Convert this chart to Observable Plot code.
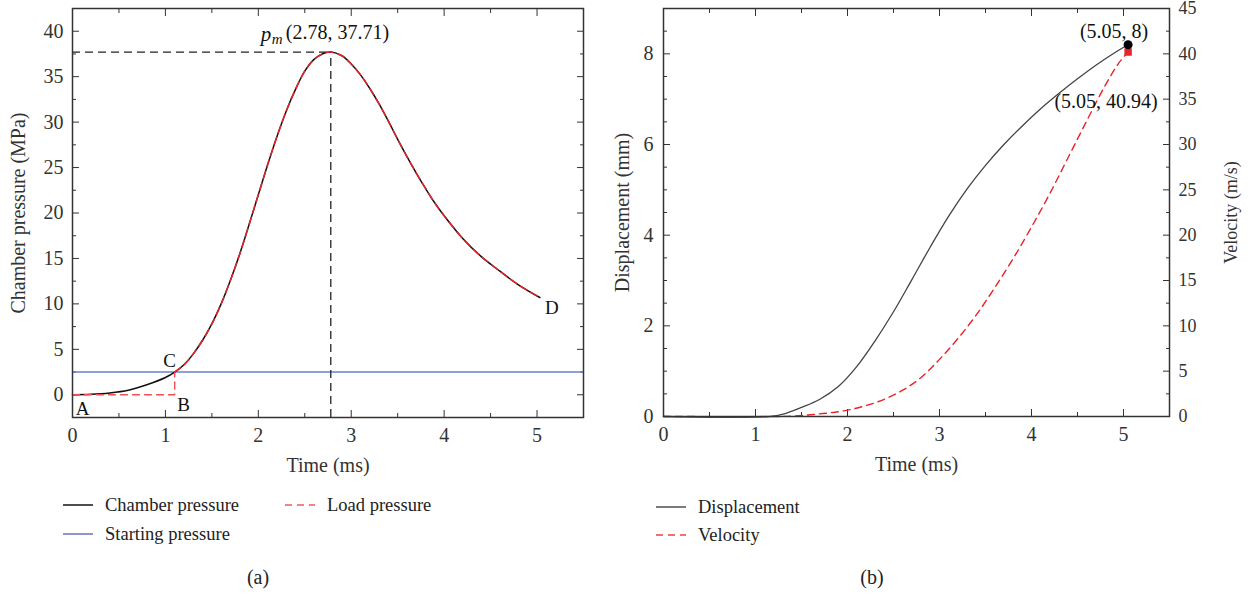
<!DOCTYPE html>
<html><head><meta charset="utf-8">
<script src="https://cdn.jsdelivr.net/npm/d3@7"></script>
<script src="https://cdn.jsdelivr.net/npm/@observablehq/plot@0.6"></script>
<style>
body{margin:0;background:#fff;}
#root{position:relative;width:1252px;height:594px;font-family:"Liberation Serif",serif;color:#222;overflow:hidden;}
.panel{position:absolute;top:0;}
.leg{position:absolute;display:flex;align-items:center;font-size:18.5px;white-space:nowrap;line-height:1;}
.leg svg{margin-right:12px;}
.cap{position:absolute;font-size:20px;transform:translate(-50%,-50%);}
</style></head><body><div id="root"></div>
<script>
// ---------- Panel (a) data ----------
const chamberTime = [0,0.2,0.4,0.6,0.8,1.0,1.1,1.2,1.3,1.4,1.5,1.6,1.7,1.8,1.9,2.0,2.1,2.2,2.3,2.4,2.5,2.6,2.7,2.78,2.9,3.0,3.1,3.2,3.3,3.4,3.5,3.6,3.7,3.8,3.9,4.0,4.2,4.4,4.6,4.8,5.03];
const chamberPressure = [0,0.05,0.2,0.5,1.1,1.9,2.5,3.3,4.5,6.0,7.8,10.0,12.6,15.5,18.7,22.0,25.3,28.4,31.2,33.6,35.6,36.9,37.55,37.71,37.3,36.4,35.2,33.7,32.0,30.1,28.1,26.2,24.4,22.7,21.1,19.7,17.2,15.2,13.6,12.1,10.7];
const loadLeadTime = [0, 1.1, 1.1];
const loadLeadPressure = [0, 0, 2.5];
const startingPressure = 2.5;
const peakPoint = {t: 2.78, p: 37.71};
const pointLabels = [
  {name: "A", t: 0, p: 0},
  {name: "B", t: 1.1, p: 0},
  {name: "C", t: 1.1, p: 2.5},
  {name: "D", t: 5.03, p: 10.7}
];
const xTicks = [0,1,2,3,4,5];
const xMinor = [0.5,1.5,2.5,3.5,4.5,5.5];
const pTicks = [0,5,10,15,20,25,30,35,40];
const pMinor = [-2.5,2.5,7.5,12.5,17.5,22.5,27.5,32.5,37.5,42.5];

// ---------- Panel (b) data ----------
const dispTime = [0,1.16,1.3,1.5,1.7,1.9,2.1,2.3,2.5,2.7,2.9,3.1,3.3,3.5,3.7,3.9,4.1,4.3,4.5,4.7,4.9,5.05];
const displacement = [0,0,0.05,0.2,0.38,0.66,1.1,1.67,2.31,3.02,3.74,4.42,5.02,5.54,6.0,6.41,6.79,7.13,7.45,7.75,8.02,8.2];
const velTime = [0,1.2,1.4,1.6,1.8,2.0,2.2,2.4,2.6,2.8,3.0,3.2,3.4,3.6,3.8,4.0,4.2,4.4,4.6,4.8,4.95,5.05];
const velocity = [0,0,0.05,0.2,0.4,0.7,1.2,1.9,2.9,4.3,6.3,8.6,11.2,14.2,17.4,20.9,24.6,28.6,32.6,36.5,39.0,40.2];
const dispEnd = {t: 5.05, d: 8.2, label: "(5.05, 8)"};
const velEnd = {t: 5.05, v: 40.2, label: "(5.05, 40.94)"};
const dTicks = [0,2,4,6,8];
const dMinor = [0.5,1,1.5,2.5,3,3.5,4.5,5,5.5,6.5,7,7.5,8.5,9];
const vTicks = [0,5,10,15,20,25,30,35,40,45];
const vMinor = [2.5,7.5,12.5,17.5,22.5,27.5,32.5,37.5,42.5];
const velRatio = 5; // velocity axis (0–45) shares the displacement frame (0–9)

const RED = "#e8222a", BLUE = "#6b80c6", AX = "#333";

const chamber = chamberTime.map((t, i) => ({t, p: chamberPressure[i]}));
const loadLead = loadLeadTime.map((t, i) => ({t, p: loadLeadPressure[i]}));
const loadRest = chamber.filter(d => d.t >= 1.1);
const disp = dispTime.map((t, i) => ({t, d: displacement[i]}));
const vel = velTime.map((t, i) => ({t, v: velocity[i]}));

const fontStyle = {fontFamily: "Liberation Serif, serif", fontSize: "20px", color: AX, background: "transparent", overflow: "visible"};
const noText = () => "";

function frameTicks(xT, xM, yT, yM, rightMirror) {
  const m = [
    Plot.axisX({ticks: xM, tickSize: -4, tickFormat: noText, label: null}),
    Plot.axisX({anchor: "top", ticks: xT, tickSize: -7, tickFormat: noText, label: null}),
    Plot.axisX({anchor: "top", ticks: xM, tickSize: -4, tickFormat: noText, label: null}),
    Plot.axisY({ticks: yM, tickSize: -4, tickFormat: noText, label: null})
  ];
  if (rightMirror) {
    m.push(Plot.axisY({anchor: "right", ticks: yT, tickSize: -7, tickFormat: noText, label: null}));
    m.push(Plot.axisY({anchor: "right", ticks: yM, tickSize: -4, tickFormat: noText, label: null}));
  }
  return m;
}

const left = Plot.plot({
  width: 600, height: 480, marginLeft: 72, marginRight: 17, marginTop: 8, marginBottom: 63,
  style: fontStyle,
  x: {domain: [0, 5.5]},
  y: {domain: [-2.5, 42.5]},
  marks: [
    Plot.axisX({ticks: xTicks, tickSize: -7, tickPadding: 17, tickFormat: d => d, label: "Time (ms)", labelAnchor: "center", labelOffset: 54, labelArrow: "none"}),
    Plot.axisY({ticks: pTicks, tickSize: -7, tickPadding: 16, tickFormat: d => d, label: "Chamber pressure (MPa)", labelAnchor: "center", labelOffset: 62, labelArrow: "none"}),
    ...frameTicks(xTicks, xMinor, pTicks, pMinor, true),
    Plot.ruleY([startingPressure], {stroke: BLUE, strokeWidth: 1.4}),
    Plot.ruleY([peakPoint], {y: "p", x1: 0, x2: "t", stroke: "#222", strokeWidth: 1.3, strokeDasharray: "8,5"}),
    Plot.ruleX([peakPoint], {x: "t", y1: -2.5, y2: "p", stroke: "#222", strokeWidth: 1.3, strokeDasharray: "8,5"}),
    Plot.line(chamber, {x: "t", y: "p", stroke: "#111", strokeWidth: 1.5, curve: "catmull-rom"}),
    Plot.line(loadLead, {x: "t", y: "p", stroke: "#ef4f55", strokeWidth: 1.4, strokeDasharray: "7,5"}),
    Plot.line(loadRest, {x: "t", y: "p", stroke: RED, strokeWidth: 1.5, strokeDasharray: "7,5", curve: "catmull-rom"}),
    Plot.text(pointLabels.filter(d => d.name === "A"), {x: "t", y: "p", text: "name", dx: 10, dy: 14, fontSize: 19, fill: "#111"}),
    Plot.text(pointLabels.filter(d => d.name === "B"), {x: "t", y: "p", text: "name", dx: 9, dy: 10, fontSize: 19, fill: "#111"}),
    Plot.text(pointLabels.filter(d => d.name === "C"), {x: "t", y: "p", text: "name", dx: -5, dy: -11, fontSize: 19, fill: "#111"}),
    Plot.text(pointLabels.filter(d => d.name === "D"), {x: "t", y: "p", text: "name", dx: 12, dy: 10, fontSize: 19, fill: "#111"}),
    Plot.text([peakPoint], {x: "t", y: "p", text: () => "p", dx: -70, dy: -18, textAnchor: "start", fontStyle: "italic", fontSize: 21, fill: "#111"}),
    Plot.text([peakPoint], {x: "t", y: "p", text: () => "m", dx: -59, dy: -13, textAnchor: "start", fontStyle: "italic", fontSize: 15, fill: "#111"}),
    Plot.text([peakPoint], {x: "t", y: "p", text: d => `(${d.t}, ${d.p})`, dx: -45, dy: -19, textAnchor: "start", fontSize: 20, fill: "#111"}),
    Plot.frame({stroke: AX, strokeWidth: 1.5})
  ]
});

const right = Plot.plot({
  width: 652, height: 480, marginLeft: 63, marginRight: 83, marginTop: 8, marginBottom: 64,
  style: fontStyle,
  x: {domain: [0, 5.5]},
  y: {domain: [0, 9]},
  marks: [
    Plot.axisX({ticks: xTicks, tickSize: -7, tickPadding: 17, tickFormat: d => d, label: "Time (ms)", labelAnchor: "center", labelOffset: 54, labelArrow: "none"}),
    Plot.axisY({ticks: dTicks, tickSize: -7, tickPadding: 17, tickFormat: d => d, label: "Displacement (mm)", labelAnchor: "center", labelOffset: 49, labelArrow: "none"}),
    Plot.axisY({anchor: "right", ticks: vTicks.map(v => v / velRatio), tickSize: -7, tickPadding: 16, tickFormat: d => Math.round(d * velRatio), fontSize: 18, label: "Velocity (m/s)", labelAnchor: "center", labelOffset: 67, labelArrow: "none"}),
    Plot.axisY({anchor: "right", ticks: vMinor.map(v => v / velRatio), tickSize: -4, tickFormat: noText, label: null}),
    ...frameTicks(xTicks, xMinor, dTicks, dMinor, false),
    Plot.line(disp, {x: "t", y: "d", stroke: "#444", strokeWidth: 1.3, curve: "catmull-rom"}),
    Plot.line(vel, {x: "t", y: d => d.v / velRatio, stroke: RED, strokeWidth: 1.4, strokeDasharray: "7,5", curve: "catmull-rom"}),
    Plot.dot([velEnd], {x: "t", y: d => d.v / velRatio, symbol: "square", r: 4.2, fill: RED, stroke: "none"}),
    Plot.dot([dispEnd], {x: "t", y: "d", r: 4.5, fill: "#000", stroke: "none"}),
    Plot.text([dispEnd], {x: "t", y: "d", text: "label", dx: -14, dy: -13, fontSize: 20, fill: "#111"}),
    Plot.text([velEnd], {x: "t", y: d => d.v / velRatio, text: "label", dx: -22, dy: 50, fontSize: 20, fill: "#111"}),
    Plot.frame({stroke: AX, strokeWidth: 1.5})
  ]
});

const root = document.getElementById("root");
left.classList.add("panel"); left.style.left = "0px";
right.classList.add("panel"); right.style.left = "600px";
root.appendChild(left); root.appendChild(right);

function swatch(color, dashed, width) {
  return `<svg width="30" height="6"><line x1="0" x2="30" y1="3" y2="3" stroke="${color}" stroke-width="${width}" ${dashed ? 'stroke-dasharray="7,5"' : ""}/></svg>`;
}
const legendItems = [
  {text: "Chamber pressure", color: "#222", dashed: false, w: 1.6, x: 63, y: 505},
  {text: "Load pressure", color: "#f05a5a", dashed: true, w: 1.6, x: 285, y: 505},
  {text: "Starting pressure", color: "#4f5fb5", dashed: false, w: 1.3, x: 63, y: 534},
  {text: "Displacement", color: "#333", dashed: false, w: 1.3, x: 656, y: 507},
  {text: "Velocity", color: "#f04040", dashed: true, w: 1.6, x: 656, y: 535}
];
for (const it of legendItems) {
  const el = document.createElement("div");
  el.className = "leg";
  el.style.left = it.x + "px";
  el.style.top = (it.y - 10) + "px";
  el.style.height = "20px";
  el.innerHTML = swatch(it.color, it.dashed, it.w) + `<span>${it.text}</span>`;
  root.appendChild(el);
}
const captions = [{text: "(a)", x: 258, y: 577}, {text: "(b)", x: 872, y: 577}];
for (const c of captions) {
  const el = document.createElement("div");
  el.className = "cap";
  el.style.left = c.x + "px";
  el.style.top = c.y + "px";
  el.textContent = c.text;
  root.appendChild(el);
}
</script></body></html>
